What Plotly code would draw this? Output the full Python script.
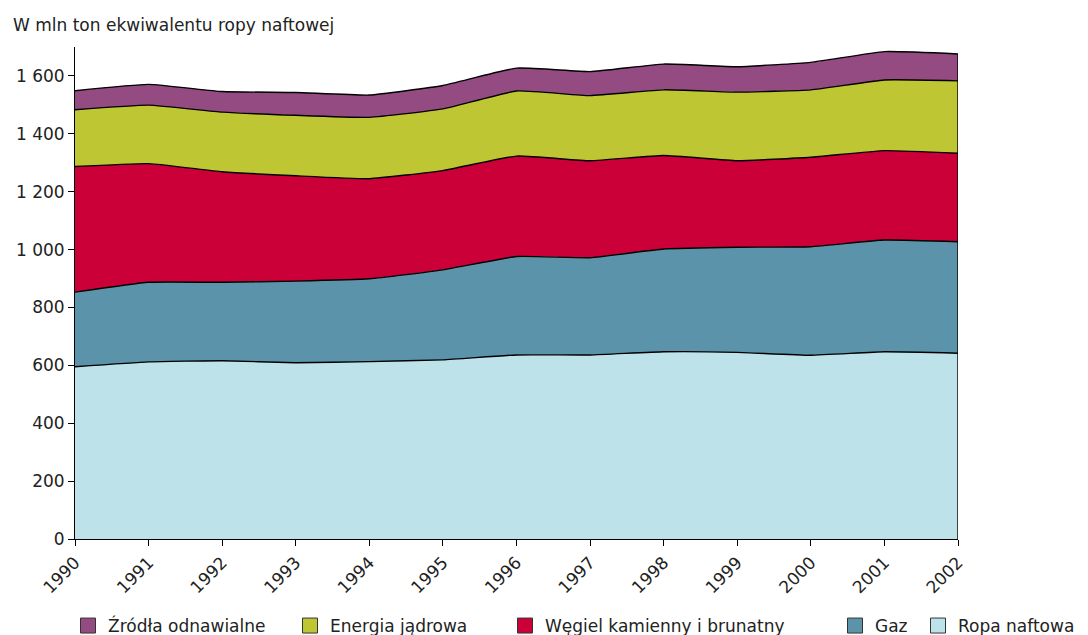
import plotly.graph_objects as go

years = list(range(1990, 2003))
oil = [595, 612, 616, 609, 613, 619, 636, 636, 647, 645, 635, 647, 642]
gas = [258, 275, 271, 282, 286, 311, 340, 336, 355, 363, 375, 386, 385]
coal = [434, 410, 382, 364, 346, 343, 347, 335, 323, 299, 309, 309, 306]
nuclear = [196, 202, 206, 209, 212, 213, 225, 225, 227, 237, 233, 244, 250]
renewables = [66, 72, 71, 79, 77, 81, 79, 83, 89, 88, 95, 98, 93]

names = ["Ropa naftowa", "Gaz", "Węgiel kamienny i brunatny", "Energia jądrowa", "Źródła odnawialne"]
series = [oil, gas, coal, nuclear, renewables]
colors = ["#bde2e9", "#5b93aa", "#cc0038", "#bec634", "#944b82"]
# legend slot positions (container fraction), one legend per item
legend_x = [918 / 1088, 835 / 1088, 505 / 1088, 290 / 1088, 68 / 1088]

FONT = "DejaVu Sans"
FS = 17
TXT = "#222222"
fig = go.Figure()

for name, vals, col in zip(names, series, colors):
    fig.add_trace(go.Scatter(
        x=years, y=vals, stackgroup="one", mode="lines",
        line=dict(color="black", width=1.4, shape="spline", smoothing=0.4),
        fillcolor=col, name=name, showlegend=False, hoverinfo="skip"))

legend_layouts = {}
for i, (name, col, lx) in enumerate(zip(names, colors, legend_x)):
    lname = "legend" if i == 0 else f"legend{i + 1}"
    fig.add_trace(go.Scatter(
        x=[None], y=[None], mode="markers", name=name, legend=lname,
        marker=dict(symbol="square", size=15, color=col,
                    line=dict(color="#333333", width=1))))
    legend_layouts[lname] = dict(
        orientation="h", xref="container", yref="container",
        x=lx, y=(635 - 626) / 635, xanchor="left", yanchor="middle",
        bgcolor="rgba(0,0,0,0)", font=dict(family=FONT, size=FS, color=TXT),
        itemclick=False, itemdoubleclick=False)

# right edge outline of the stacked area
total_last = sum(s[-1] for s in series)
fig.add_trace(go.Scatter(x=[years[-1], years[-1]], y=[0, total_last], mode="lines",
                         line=dict(color="black", width=1.4), showlegend=False,
                         hoverinfo="skip"))

fig.update_layout(
    width=1088, height=635,
    margin=dict(l=75, r=130, t=47, b=96),
    paper_bgcolor="white", plot_bgcolor="white",
    font=dict(family=FONT, size=FS, color=TXT),
    separators=", ",
    showlegend=True,
    annotations=[dict(text="W mln ton ekwiwalentu ropy naftowej",
                      xref="paper", yref="paper", x=-0.0725, y=1.0,
                      xanchor="left", yanchor="bottom", yshift=10,
                      showarrow=False, font=dict(family=FONT, size=FS, color=TXT))],
    xaxis=dict(range=[years[0], years[-1]], tickmode="array", tickvals=years,
               ticktext=[str(y) for y in years], tickangle=-45, automargin=False,
               showgrid=False, zeroline=False, showline=True, linecolor="black",
               linewidth=1, ticks="outside", ticklen=6, tickcolor="black"),
    yaxis=dict(range=[0, 1700], tickmode="array", tickvals=list(range(0, 1601, 200)),
               separatethousands=True, showgrid=False, zeroline=False, automargin=False,
               showline=True, linecolor="black", linewidth=1,
               ticks="outside", ticklen=6, tickcolor="black"),
    **legend_layouts,
)

fig.write_html("out.html", config={"displayModeBar": False},
               post_script="document.body.style.margin='0';document.body.style.overflow='hidden';")
